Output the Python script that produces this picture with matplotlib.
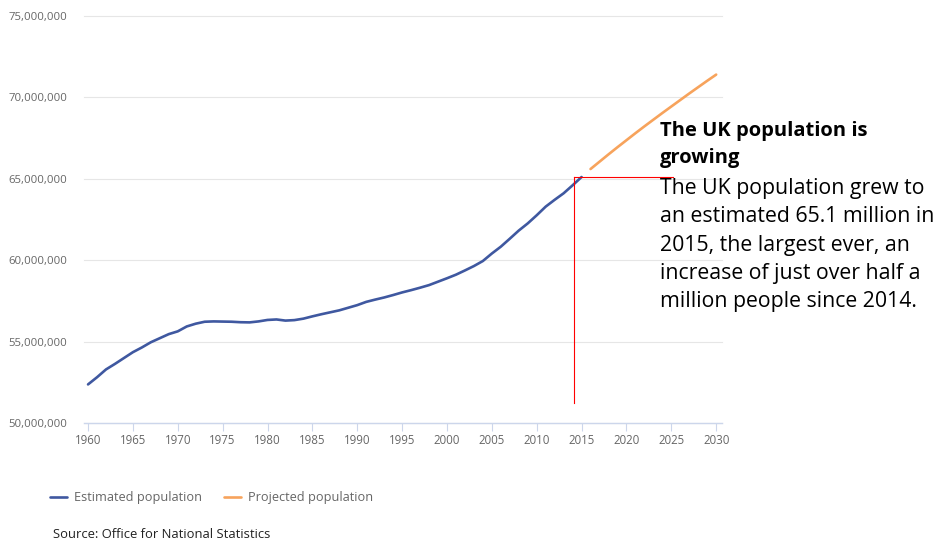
import matplotlib
matplotlib.use("Agg")
import matplotlib.pyplot as plt
from matplotlib.ticker import FuncFormatter, MultipleLocator

est_years = list(range(1960, 2016))
est_pop = [52.37, 52.81, 53.29, 53.63, 53.99, 54.35, 54.64, 54.96, 55.21, 55.46,
           55.63, 55.93, 56.10, 56.22, 56.24, 56.23, 56.22, 56.19, 56.18, 56.24,
           56.33, 56.36, 56.29, 56.32, 56.41, 56.55, 56.68, 56.80, 56.92, 57.08,
           57.24, 57.44, 57.58, 57.71, 57.86, 58.02, 58.16, 58.31, 58.47, 58.68,
           58.89, 59.11, 59.37, 59.64, 59.95, 60.41, 60.83, 61.32, 61.82, 62.26,
           62.76, 63.29, 63.71, 64.11, 64.60, 65.11]
proj_years = list(range(2016, 2031))
proj_pop = [65.60, 66.05, 66.50, 66.94, 67.37, 67.80, 68.22, 68.63, 69.04, 69.44,
            69.84, 70.24, 70.63, 71.02, 71.40]
series_labels = ["Estimated population", "Projected population"]
title_text = "The UK population is\ngrowing"
body_text = ("The UK population grew to\nan estimated 65.1 million in\n"
             "2015, the largest ever, an\nincrease of just over half a\n"
             "million people since 2014.")
source_text = "Source: Office for National Statistics"

W, H = 934, 540
fig = plt.figure(figsize=(W / 100, H / 100), dpi=100)
ax = fig.add_axes([84 / W, 1 - 423 / H, (722 - 84) / W, (423 - 16) / H])

blue = "#3f58a0"
orange = "#f7a35c"
l1, = ax.plot(est_years, [v * 1e6 for v in est_pop], color=blue, lw=1.9,
              solid_capstyle="round", label=series_labels[0])
l2, = ax.plot(proj_years, [v * 1e6 for v in proj_pop], color=orange, lw=1.9,
              solid_capstyle="round", label=series_labels[1])

ax.set_xlim(1959.55, 2030.65)
ax.set_ylim(50e6, 75e6)
ax.xaxis.set_major_locator(MultipleLocator(5))
ax.yaxis.set_major_locator(MultipleLocator(5e6))
ax.yaxis.set_major_formatter(FuncFormatter(lambda v, p: f"{int(round(v)):,}"))

for s in ["top", "right", "left"]:
    ax.spines[s].set_visible(False)
ax.spines["bottom"].set_color("#ccd6eb")
ax.spines["bottom"].set_linewidth(1)
ax.grid(axis="y", color="#e6e6e6", lw=0.8)
ax.set_axisbelow(True)
for gl in ax.get_ygridlines():
    gl.set_clip_on(False)
ax.tick_params(axis="y", length=0, pad=12, labelsize=8.2, labelcolor="#666666")
ax.tick_params(axis="x", length=6, width=0.8, color="#ccd6eb", pad=2,
               labelsize=8.3, labelcolor="#666666")
for lab in ax.get_xticklabels() + ax.get_yticklabels():
    lab.set_family("Open Sans")

# annotation lines (red)
ax.plot([2014.2, 2014.2], [51.23e6, 65.1e6], color="#ff0000", lw=0.8, clip_on=False)
ax.plot([2014.2, 2025.2], [65.1e6, 65.1e6], color="#ff0000", lw=0.8, clip_on=False)

fig.text(660 / W, 1 - 121 / H, title_text, fontsize=14.5, fontweight="bold",
         family="Open Sans", va="top", ha="left", linespacing=1.5, color="black")
fig.text(660 / W, 1 - 178 / H, body_text, fontsize=15.3, family="Open Sans",
         va="top", ha="left", linespacing=1.46, color="black")

leg = fig.legend(handles=[l1, l2], labels=series_labels, ncol=2,
                 loc="center left", bbox_to_anchor=(50 / W, 1 - 498 / H),
                 frameon=False, handlelength=1.33, handletextpad=0.55,
                 columnspacing=1.72, borderpad=0, borderaxespad=0,
                 prop={"family": "Open Sans", "size": 9.2})
for t in leg.get_texts():
    t.set_color("#666666")

fig.text(53 / W, 1 - 535 / H, source_text, fontsize=9.4, family="Open Sans",
         va="center", ha="left", color="#222222")

fig.savefig("out.png", dpi=100)
